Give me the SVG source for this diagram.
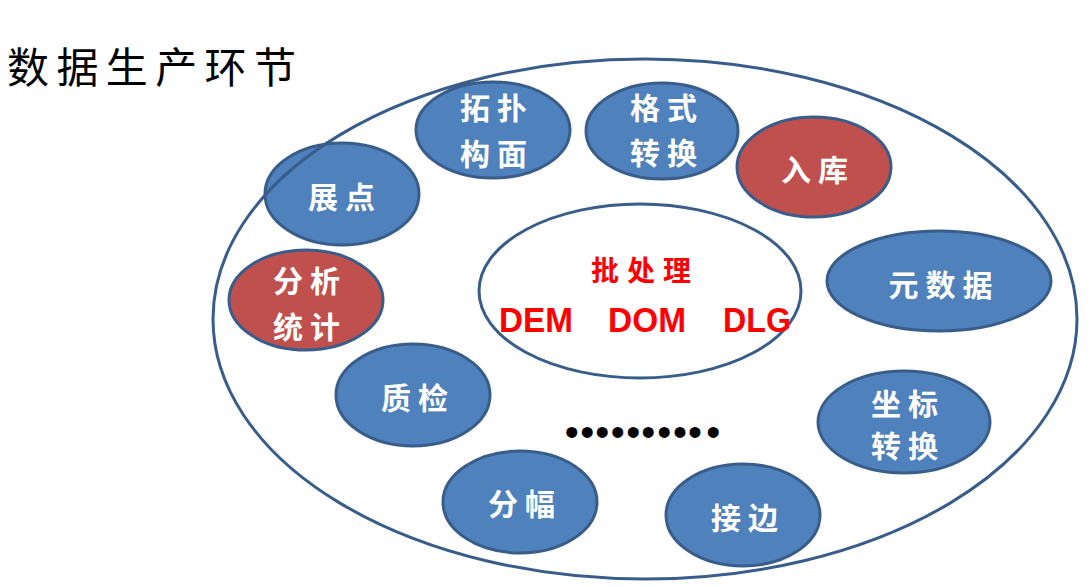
<svg xmlns="http://www.w3.org/2000/svg" width="1092" height="587" viewBox="0 0 1092 587">
<style>
.ring{fill:none;stroke:#385D8A;stroke-width:3}
.blue{fill:#4F81BD;stroke:#385D8A;stroke-width:3}
.red{fill:#C0504D;stroke:#385D8A;stroke-width:3}
.lbl{font-family:"Noto Sans CJK SC","Noto Sans CJK TC",sans-serif;font-size:30px;font-weight:bold;fill:#FFFFFF;text-anchor:middle;letter-spacing:7px}
.title{font-family:"Noto Sans CJK SC",sans-serif;font-size:42px;fill:#000000;letter-spacing:7.4px}
.batch{font-family:"Noto Sans CJK SC",sans-serif;font-size:28px;font-weight:bold;fill:#FF0000;text-anchor:middle;letter-spacing:8px}
.code{font-family:"Liberation Sans",Arial,sans-serif;font-size:35px;font-weight:bold;fill:#FF0000}
.dots{font-family:"Liberation Sans",Arial,sans-serif;font-size:40px;fill:#000000;text-anchor:middle}
</style>
<rect width="1092" height="587" fill="#FFFFFF"/>
<text class="title" x="7" y="83">数据生产环节</text>
<g id="node-zhandian">
<ellipse class="blue" cx="342" cy="194" rx="77" ry="51"/>
<text class="lbl" x="345" y="208">展点</text>
</g>
<g id="connectors">
<ellipse id="outer" class="ring" cx="645" cy="319" rx="432" ry="260"/>
</g>
<g id="node-center">
<ellipse class="ring" cx="640" cy="291" rx="161" ry="87" fill="#FFFFFF" style="fill:#FFFFFF"/>
<text class="batch" x="645" y="281">批处理</text>
<text class="code" x="499" y="332" textLength="74" lengthAdjust="spacingAndGlyphs">DEM</text>
<text class="code" x="608" y="332" textLength="78" lengthAdjust="spacingAndGlyphs">DOM</text>
<text class="code" x="723" y="332" textLength="68" lengthAdjust="spacingAndGlyphs">DLG</text>
</g>
<g id="node-tuopu">
<ellipse class="blue" cx="493" cy="130" rx="77" ry="48"/>
<text class="lbl" x="497" y="119">拓扑</text>
<text class="lbl" x="497" y="165">构面</text>
</g>
<g id="node-geshi">
<ellipse class="blue" cx="662" cy="131" rx="76" ry="48"/>
<text class="lbl" x="667" y="119">格式</text>
<text class="lbl" x="667" y="164">转换</text>
</g>
<g id="node-ruku">
<ellipse class="red" cx="814" cy="167" rx="77" ry="50"/>
<text class="lbl" x="818" y="181">入库</text>
</g>
<g id="node-fenxi">
<ellipse class="red" cx="306" cy="300" rx="77" ry="50"/>
<text class="lbl" x="310" y="292">分析</text>
<text class="lbl" x="310" y="338">统计</text>
</g>
<g id="node-yuanshuju">
<ellipse class="blue" cx="939" cy="281" rx="112" ry="50"/>
<text class="lbl" x="944" y="296">元数据</text>
</g>
<g id="node-zhijian">
<ellipse class="blue" cx="413" cy="395" rx="77" ry="51"/>
<text class="lbl" x="418" y="409">质检</text>
</g>
<g id="node-fenfu">
<ellipse class="blue" cx="520" cy="502" rx="77" ry="51"/>
<text class="lbl" x="525" y="515">分幅</text>
</g>
<g id="node-zuobiao">
<ellipse class="blue" cx="904" cy="422" rx="86" ry="51"/>
<text class="lbl" x="908" y="415">坐标</text>
<text class="lbl" x="908" y="457">转换</text>
</g>
<g id="node-jiebian">
<ellipse class="blue" cx="743" cy="515" rx="77" ry="51"/>
<text class="lbl" x="748" y="529">接边</text>
</g>
<g id="ellipsis">
<text class="dots" x="571.7 587.3 602.3 617.7 633.3 648.3 664.3 680 695 713.3" y="446">••••••••••</text>
</g>
</svg>
